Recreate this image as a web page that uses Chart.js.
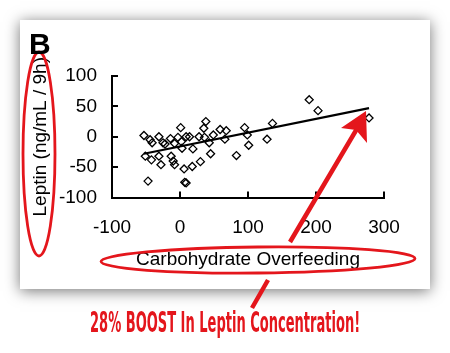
<!DOCTYPE html>
<html>
<head>
<meta charset="utf-8">
<script src="https://cdn.jsdelivr.net/npm/chart.js@4/dist/chart.umd.min.js"></script>
<style>
  body { margin: 0; background: #fff; }
  #wrap { position: relative; width: 450px; height: 353px; overflow: hidden; }
  #panel { position: absolute; left: 29px; top: 27px; font: bold 30px "Liberation Sans", Arial, sans-serif; color: #000; }
  #caption { position: absolute; left: 90px; top: 306px; white-space: nowrap; transform-origin: 0 0;
             font: bold 28px "DejaVu Sans Condensed", "DejaVu Sans", sans-serif; color: rgb(228, 22, 28); }
</style>
</head>
<body>
<div id="wrap">
  <canvas id="chart" width="450" height="353"></canvas>
  <div id="panel">B</div>
  <div id="caption">28% BOOST In Leptin Concentration!</div>
</div>
<script>
// carbohydrate overfeeding (x) vs leptin change (y)
const carbX = [-53, -51, -47, -42, -41, -44, -31, -31, -28, -25, -22, -14, -13, -10, -8, -8,
               -3, 1, 2, 3, 6, 7, 9, 9, 14, 18, 19, 28, 30, 35, 38, 36, 43, 45, 49, 59,
               66, 68, 83, 95, 99, 101, 128, 136, 190, 203, 278];
const leptinY = [2, -32, -73, -38, -10, -5, 0, -32, -46, -10, -12, -3, -32, -40, -46, -11,
                 -1, 15, -8, -19, -53, -75, -76, 0, 0, -49, -20, 0, -41, 14, 25, -1, -10, -28, 3, 12,
                 -4, 10, -31, 15, 3, -14, -4, 22, 61, 43, 31];
const trendX = [-53, 278];
const trendY = [-28, 47];
const xTicks = [0, 100, 200, 300];
const yTicks = [100, 50, 0, -50];

const red = 'rgb(228, 22, 28)';

const points = carbX.map((x, i) => ({ x: x, y: leptinY[i] }));
const trend = trendX.map((x, i) => ({ x: x, y: trendY[i] }));

const cardPlugin = {
    id: 'card',
    beforeDraw(chart) {
        const ctx = chart.ctx;
        ctx.save();
        ctx.fillStyle = '#fff';
        ctx.fillRect(0, 0, chart.width, chart.height);
        ctx.shadowColor = 'rgba(0,0,0,0.55)';
        ctx.shadowBlur = 14;
        ctx.shadowOffsetY = 2;
        ctx.fillRect(20, 20, 410, 269);
        ctx.restore();
    }
};

const markupPlugin = {
    id: 'markup',
    afterDraw(chart) {
        const ctx = chart.ctx;
        const xs = chart.scales.x, ys = chart.scales.y;
        const area = chart.chartArea;
        ctx.save();

        // inward tick marks
        ctx.strokeStyle = '#000';
        ctx.lineWidth = 2;
        ctx.beginPath();
        yTicks.forEach(v => {
            const py = Math.round(ys.getPixelForValue(v));
            ctx.moveTo(area.left, py);
            ctx.lineTo(area.left + 6, py);
        });
        xTicks.forEach(v => {
            const px = Math.round(xs.getPixelForValue(v));
            ctx.moveTo(px, area.bottom);
            ctx.lineTo(px, area.bottom - 6);
        });
        ctx.stroke();

        // red ellipses
        ctx.strokeStyle = red;
        ctx.lineWidth = 2.8;
        ctx.beginPath();
        ctx.ellipse(39, 154, 16, 102, 0, 0, Math.PI * 2);
        ctx.stroke();
        ctx.beginPath();
        ctx.ellipse(258, 260, 157, 13, -0.01, 0, Math.PI * 2);
        ctx.stroke();

        // arrow
        ctx.lineWidth = 4.5;
        ctx.beginPath();
        ctx.moveTo(252, 308);
        ctx.lineTo(268, 280);
        ctx.moveTo(290, 242);
        ctx.lineTo(358, 127);
        ctx.stroke();
        ctx.fillStyle = red;
        ctx.beginPath();
        ctx.moveTo(366, 111);
        ctx.lineTo(341, 128);
        ctx.lineTo(356, 130);
        ctx.lineTo(367, 143);
        ctx.closePath();
        ctx.fill();
        ctx.restore();
    }
};

new Chart(document.getElementById('chart'), {
    type: 'scatter',
    data: {
        datasets: [
            {
                data: points,
                pointStyle: 'rectRot',
                pointRadius: 4,
                borderColor: '#000',
                backgroundColor: 'rgba(0,0,0,0)',
                borderWidth: 1.3
            },
            {
                data: trend,
                showLine: true,
                pointRadius: 0,
                borderColor: '#000',
                borderWidth: 2.2
            }
        ]
    },
    options: {
        responsive: false,
        animation: false,
        devicePixelRatio: 1,
        layout: { padding: { left: 19, right: 66, top: 76, bottom: 82 } },
        plugins: { legend: { display: false }, tooltip: { enabled: false } },
        scales: {
            x: {
                min: -100, max: 300,
                grid: { drawOnChartArea: false, drawTicks: false },
                border: { color: '#000', width: 2 },
                ticks: { stepSize: 100, color: '#000', padding: 19, maxRotation: 0,
                         font: { family: 'Liberation Sans', size: 19 } },
                title: { display: true, text: 'Carbohydrate Overfeeding', color: '#000',
                         padding: 0, font: { family: 'Liberation Sans', size: 19 } },
                afterFit(scale) { scale.height = 73.5; }
            },
            y: {
                min: -100, max: 100,
                grid: { drawOnChartArea: false, drawTicks: false },
                border: { color: '#000', width: 2 },
                ticks: { stepSize: 50, color: '#000', padding: 15,
                         font: { family: 'Liberation Sans', size: 19 } },
                title: { display: true, text: 'Leptin (ng/mL / 9h)', color: '#000',
                         padding: { top: 10, bottom: 0 }, font: { family: 'Liberation Sans', size: 19 } },
                afterFit(scale) { scale.width = 93; }
            }
        }
    },
    plugins: [cardPlugin, markupPlugin]
});

// squeeze the caption to the width it has in the picture
const cap = document.getElementById('caption');
cap.style.transform = 'scaleX(' + (270 / cap.offsetWidth) + ')';
</script>
</body>
</html>
